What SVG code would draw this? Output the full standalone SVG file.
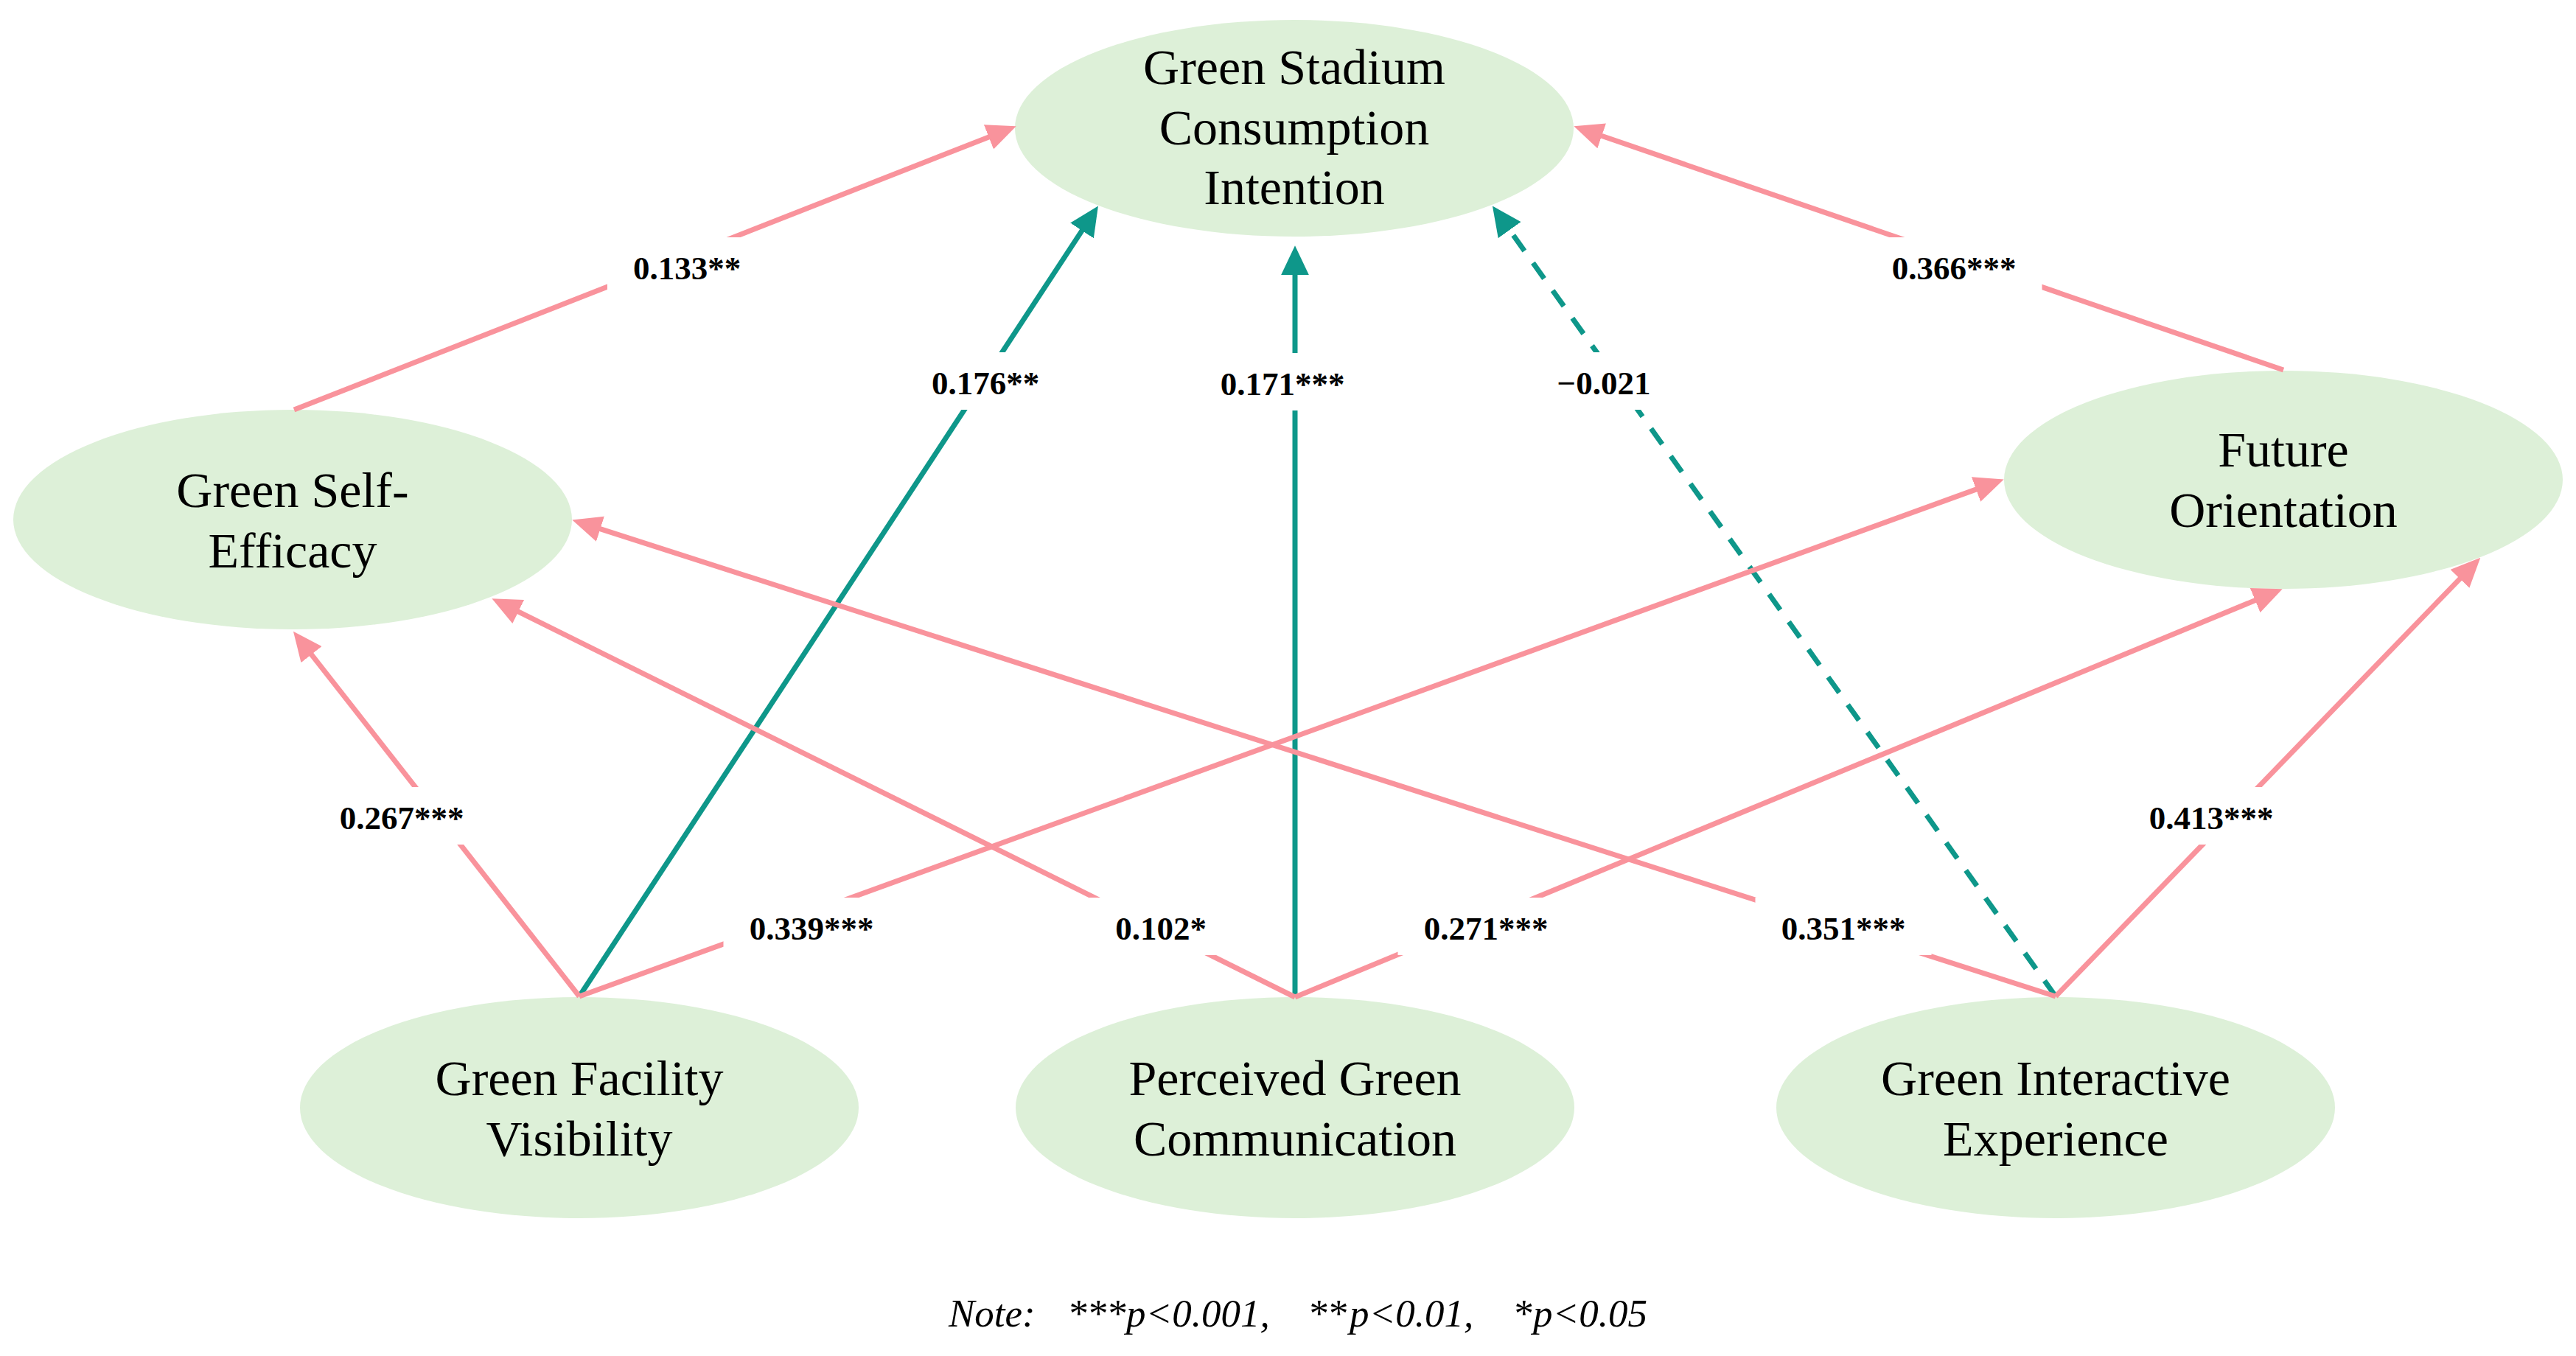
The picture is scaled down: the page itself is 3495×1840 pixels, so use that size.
<svg xmlns="http://www.w3.org/2000/svg" width="3495" height="1840" viewBox="0 0 3495 1840">
<defs>
<style>
.node ellipse{fill:#DDF0D8}
.node text{font-family:"Liberation Serif","Times New Roman",serif;font-size:68px;fill:#000;text-anchor:middle}
.e{fill:none;stroke-width:7}
.p{stroke:#F9939C;marker-end:url(#ap)}
.t{stroke:#0E978A;marker-end:url(#at)}
.d{stroke-dasharray:26 20}
.lbl rect{fill:#fff}
.lbl text{font-family:"Liberation Serif","Times New Roman",serif;font-weight:bold;font-size:45px;text-anchor:middle;fill:#000}
.note{font-family:"Liberation Serif","Times New Roman",serif;font-style:italic;font-size:53px;fill:#000}
</style>
<marker id="ap" markerUnits="userSpaceOnUse" markerWidth="40" markerHeight="36" viewBox="0 0 38 34" refX="4" refY="17" orient="auto"><path d="M0,0 L38,17 L0,34 z" fill="#F9939C"/></marker>
<marker id="at" markerUnits="userSpaceOnUse" markerWidth="40" markerHeight="38" viewBox="0 0 38 36" refX="4" refY="18" orient="auto"><path d="M0,0 L38,18 L0,36 z" fill="#0E978A"/></marker>
</defs>
<rect width="3495" height="1840" fill="#fff"/>

<g id="node-gsci" class="node"><ellipse cx="1756" cy="174" rx="379" ry="147"/><text x="1756" y="114">Green Stadium</text><text x="1756" y="196">Consumption</text><text x="1756" y="277">Intention</text></g>
<g id="node-gse" class="node"><ellipse cx="397" cy="705" rx="379" ry="149"/><text x="397" y="688">Green Self-</text><text x="397" y="770">Efficacy</text></g>
<g id="node-fo" class="node"><ellipse cx="3098" cy="651" rx="379" ry="148"/><text x="3098" y="633">Future</text><text x="3098" y="715">Orientation</text></g>
<g id="node-gfv" class="node"><ellipse cx="786" cy="1503" rx="379" ry="150"/><text x="786" y="1486">Green Facility</text><text x="786" y="1568">Visibility</text></g>
<g id="node-pgc" class="node"><ellipse cx="1757" cy="1503" rx="379" ry="150"/><text x="1757" y="1486">Perceived Green</text><text x="1757" y="1568">Communication</text></g>
<g id="node-gie" class="node"><ellipse cx="2789" cy="1503" rx="379" ry="150"/><text x="2789" y="1486">Green Interactive</text><text x="2789" y="1568">Experience</text></g>

<g id="connectors">
<line class="e p" x1="399" y1="556" x2="1345.4" y2="184.4"/>
<line class="e p" x1="3098" y1="502" x2="2169.2" y2="183"/>
<line class="e t" x1="786" y1="1352" x2="1470.3" y2="309.4"/>
<line class="e t" x1="1757" y1="1353" x2="1757" y2="369"/>
<line class="e t d" x1="2789" y1="1352" x2="2045.7" y2="308.7"/>
<line class="e p" x1="786" y1="1352" x2="420" y2="884.8"/>
<line class="e p" x1="786" y1="1352" x2="2685" y2="662.6"/>
<line class="e p" x1="1757" y1="1353" x2="699.5" y2="828.1"/>
<line class="e p" x1="1757" y1="1353" x2="3063.6" y2="813"/>
<line class="e p" x1="2789" y1="1352" x2="810.4" y2="716.4"/>
<line class="e p" x1="2789" y1="1352" x2="3340.4" y2="782.4"/>
</g>

<g id="labels" class="lbl">
<rect x="824" y="322" width="216" height="78"/><text x="932" y="379">0.133**</text>
<rect x="2531.5" y="322" width="239" height="78"/><text x="2651" y="379">0.366***</text>
<rect x="1229" y="478" width="216" height="78"/><text x="1337" y="535">0.176**</text>
<rect x="1620.5" y="479" width="239" height="78"/><text x="1740" y="536">0.171***</text>
<rect x="2077.5" y="478" width="197" height="78"/><text x="2176" y="535">−0.021</text>
<rect x="425.5" y="1068" width="239" height="78"/><text x="545" y="1125">0.267***</text>
<rect x="2880.5" y="1068" width="239" height="78"/><text x="3000" y="1125">0.413***</text>
<rect x="981.5" y="1218" width="239" height="78"/><text x="1101" y="1275">0.339***</text>
<rect x="1478" y="1218" width="194" height="78"/><text x="1575" y="1275">0.102*</text>
<rect x="1896.5" y="1218" width="239" height="78"/><text x="2016" y="1275">0.271***</text>
<rect x="2381.5" y="1218" width="239" height="78"/><text x="2501" y="1275">0.351***</text>
</g>

<g id="note">
<text class="note" y="1800"><tspan x="1287">Note:</tspan><tspan x="1448">***</tspan><tspan x="1528">p&lt;0.001,</tspan><tspan x="1774">**</tspan><tspan x="1831">p&lt;0.01,</tspan><tspan x="2052">*</tspan><tspan x="2080">p&lt;0.05</tspan></text>
</g>
</svg>
